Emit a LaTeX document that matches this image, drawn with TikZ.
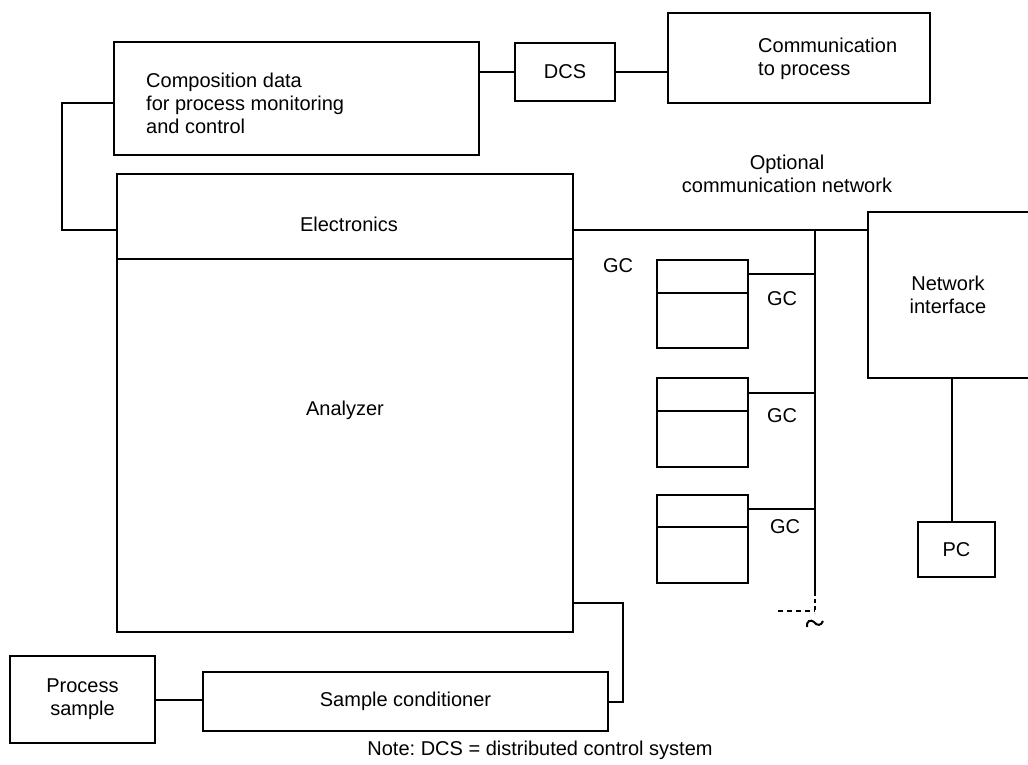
\documentclass[tikz,border=0pt]{standalone}
\usepackage{fontspec}
\setmainfont{Liberation Sans}
\frenchspacing
\begin{document}
\begin{tikzpicture}[x=1pt,y=-1pt,
  every node/.style={font=\fontsize{20}{23}\selectfont},
  box/.style={draw, line width=2pt, inner sep=0pt},
  wire/.style={line width=2pt},
  txt/.style={inner sep=0pt}]
\useasboundingbox (0,0) rectangle (1028,765);
% boxes
\node[box, minimum width=365pt, minimum height=113pt] (comp) at (296.5,98.5) {};
\node[txt, anchor=west, align=left] (comptxt) at (146,103) {Composition data\\for process monitoring\\and control};
\node[box, minimum width=100pt, minimum height=58pt] (dcs) at (565,72) {DCS};
\node[box, minimum width=262pt, minimum height=90pt] (comm) at (799,58) {};
\node[txt, anchor=west, align=left] (commtxt) at (758,58.5) {Communication\\to process};
\node[txt, align=center] (opt) at (787,174) {Optional\\communication network};
\node[box, minimum width=456pt, minimum height=85pt] (elec) at (345,216.5) {};
\node[txt] (electxt) at (349,224) {Electronics};
\node[box, minimum width=456pt, minimum height=373pt] (anal) at (345,445.5) {};
\node[txt] (analtxt) at (345,410) {Analyzer};
\node[box, minimum width=172pt, minimum height=166pt] (ni) at (954,295) {};
\node[txt, align=center] (nitxt) at (948,295) {Network\\interface};
\node[box, minimum width=77pt, minimum height=55pt] (pc) at (956.5,549.5) {PC};
\node[box, minimum width=145pt, minimum height=87pt, align=center] (ps) at (82.5,699.5) {Process\\sample};
\node[box, minimum width=405pt, minimum height=59pt] (sc) at (405.5,701.5) {Sample conditioner};
% GC boxes
\node[box, minimum width=91pt, minimum height=33pt] (g1t) at (702.5,276.5) {};
\node[box, minimum width=91pt, minimum height=55pt] (g1b) at (702.5,320.5) {};
\node[box, minimum width=91pt, minimum height=33pt] (g2t) at (702.5,394.5) {};
\node[box, minimum width=91pt, minimum height=56pt] (g2b) at (702.5,439) {};
\node[box, minimum width=91pt, minimum height=32pt] (g3t) at (702.5,511) {};
\node[box, minimum width=91pt, minimum height=56pt] (g3b) at (702.5,555) {};
\node[txt] (gc0) at (618,266) {GC};
\node[txt] (gc1) at (782,299) {GC};
\node[txt] (gc2) at (782,416) {GC};
\node[txt] (gc3) at (785,527) {GC};
% bus
\coordinate (bt) at (815,230);
\coordinate (bb) at (815,592);
\coordinate (be) at (815,613);
\coordinate (bl) at (778,611);
% connectors
\draw[wire] (dcs.west) -- (dcs.west -| comp.east);
\draw[wire] (dcs.east) -- (dcs.east -| comm.west);
\draw[wire] ([yshift=-4.5pt]comp.west) -- ++(-51,0) |- ([yshift=-13.5pt]elec.west);
\draw[wire] ([yshift=-13.5pt]elec.east) -- ([yshift=-13.5pt]elec.east -| ni.west);
\draw[wire] (bt) -- (bb);
\draw[wire, dash pattern=on 4pt off 3pt] (bb) -- (be);
\draw[wire, dash pattern=on 5pt off 4pt] (bl) -- (bl -| bb);
\draw[wire] (807,627) .. controls (806,621) and (811,619) .. (814,622) .. controls (817,626) and (821,626) .. (823,621);
\draw[wire] ([yshift=2.5pt]g1t.east) -- ([yshift=2.5pt]g1t.east -| bt);
\draw[wire] ([yshift=1.5pt]g2t.east) -- ([yshift=1.5pt]g2t.east -| bt);
\draw[wire] ([yshift=2pt]g3t.east) -- ([yshift=2pt]g3t.east -| bt);
\draw[wire] (pc.north -| 952,0) -- (ni.south -| 952,0);
\draw[wire] ([yshift=-157.5pt]anal.east) -- ++(49,0) |- (sc.east);
\draw[wire] (ps.east) -- (ps.east -| sc.west);
\node[txt] (note) at (540,750) {Note: DCS = distributed control system};
\end{tikzpicture}
\end{document}
